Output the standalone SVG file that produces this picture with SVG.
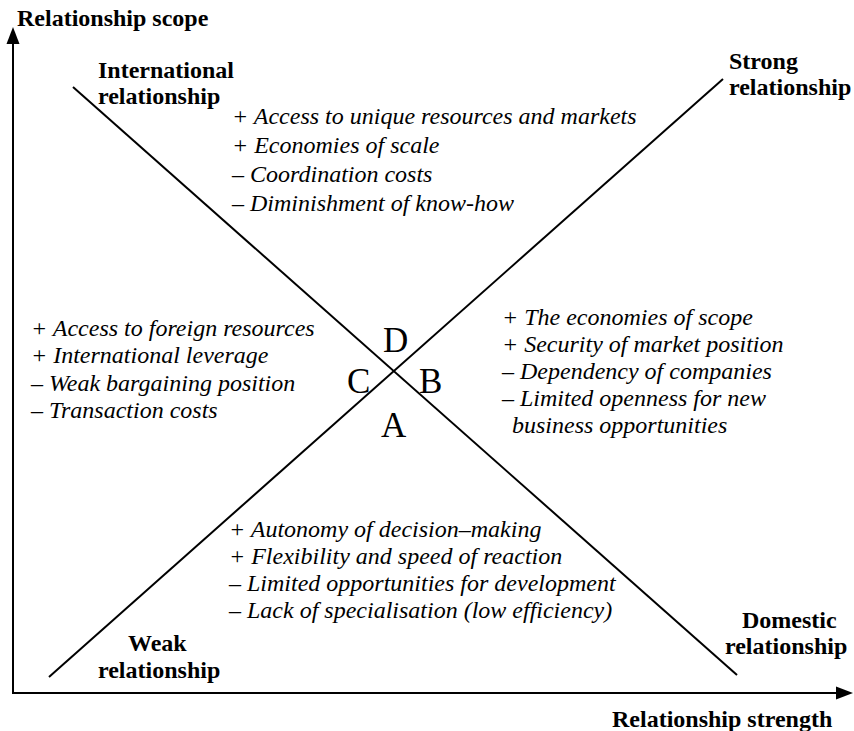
<svg xmlns="http://www.w3.org/2000/svg" width="854" height="731" viewBox="0 0 854 731">
<style>
.lab{font-family:"Liberation Serif","Times New Roman",serif;font-size:24px;font-weight:bold;fill:#000}
.it{font-family:"Liberation Serif","Times New Roman",serif;font-size:24px;font-style:italic;fill:#000}
.let{font-family:"Liberation Serif","Times New Roman",serif;font-size:35px;fill:#000}
.ln{stroke:#000;stroke-width:2;fill:none}
</style>
<rect width="854" height="731" fill="#fff"/>
<g id="connectors">
<line class="ln" x1="13" y1="694" x2="13" y2="40"/>
<polygon points="13,27 6.5,44 19.5,44" fill="#000"/>
<line class="ln" x1="12" y1="693" x2="840" y2="693"/>
<polygon points="853,693 836,686.5 836,699.5" fill="#000"/>
<line class="ln" x1="73" y1="87" x2="737" y2="675"/>
<line class="ln" x1="49" y1="677" x2="723" y2="79"/>
</g>
<g id="axis-y-label"><text class="lab" x="17" y="26">Relationship scope</text></g>
<g id="axis-x-label"><text class="lab" x="612" y="727">Relationship strength</text></g>
<g id="international"><text class="lab" x="98" y="78">International</text><text class="lab" x="98" y="104">relationship</text></g>
<g id="strong"><text class="lab" x="729" y="69">Strong</text><text class="lab" x="729" y="95">relationship</text></g>
<g id="weak"><text class="lab" x="128" y="651">Weak</text><text class="lab" x="98" y="678">relationship</text></g>
<g id="domestic"><text class="lab" x="742" y="628">Domestic</text><text class="lab" x="725" y="654">relationship</text></g>
<g id="quadrant-D">
<text class="it" x="232" y="124">+ Access to unique resources and markets</text>
<text class="it" x="232" y="153">+ Economies of scale</text>
<text class="it" x="232" y="182">– Coordination costs</text>
<text class="it" x="232" y="211">– Diminishment of know-how</text>
</g>
<g id="quadrant-C">
<text class="it" x="31" y="336">+ Access to foreign resources</text>
<text class="it" x="31" y="363">+ International leverage</text>
<text class="it" x="31" y="391">– Weak bargaining position</text>
<text class="it" x="31" y="418">– Transaction costs</text>
</g>
<g id="quadrant-B">
<text class="it" x="502" y="325">+ The economies of scope</text>
<text class="it" x="502" y="352">+ Security of market position</text>
<text class="it" x="502" y="379">– Dependency of companies</text>
<text class="it" x="502" y="406">– Limited openness for new</text>
<text class="it" x="512" y="433">business opportunities</text>
</g>
<g id="quadrant-A">
<text class="it" x="229" y="537">+ Autonomy of decision–making</text>
<text class="it" x="229" y="564">+ Flexibility and speed of reaction</text>
<text class="it" x="229" y="591">– Limited opportunities for development</text>
<text class="it" x="229" y="618">– Lack of specialisation (low efficiency)</text>
</g>
<g id="letters">
<text class="let" x="383" y="352">D</text>
<text class="let" x="347" y="393">C</text>
<text class="let" x="419" y="393">B</text>
<text class="let" x="381" y="437">A</text>
</g>
</svg>
